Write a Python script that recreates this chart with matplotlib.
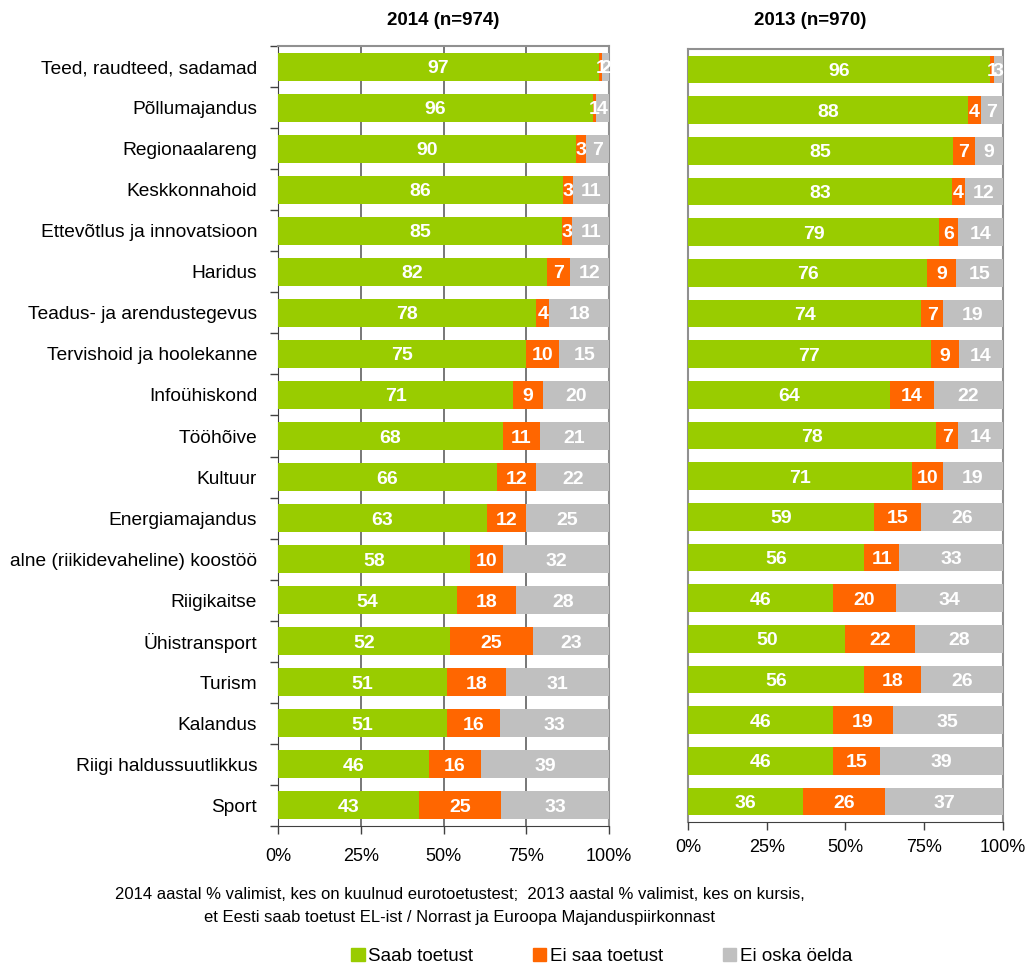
import numpy as np
import matplotlib.pyplot as plt
from matplotlib.patches import Patch

plt.rcParams['font.family'] = ['Liberation Sans', 'DejaVu Sans']

categories = ["Teed, raudteed, sadamad", "Põllumajandus", "Regionaalareng", "Keskkonnahoid",
              "Ettevõtlus ja innovatsioon", "Haridus", "Teadus- ja arendustegevus",
              "Tervishoid ja hoolekanne", "Infoühiskond", "Tööhõive", "Kultuur",
              "Energiamajandus", "alne (riikidevaheline) koostöö", "Riigikaitse",
              "Ühistransport", "Turism", "Kalandus", "Riigi haldussuutlikkus", "Sport"]

yes_2014 = [97, 96, 90, 86, 85, 82, 78, 75, 71, 68, 66, 63, 58, 54, 52, 51, 51, 46, 43]
no_2014 = [1, 1, 3, 3, 3, 7, 4, 10, 9, 11, 12, 12, 10, 18, 25, 18, 16, 16, 25]
dk_2014 = [2, 4, 7, 11, 11, 12, 18, 15, 20, 21, 22, 25, 32, 28, 23, 31, 33, 39, 33]

yes_2013 = [96, 88, 85, 83, 79, 76, 74, 77, 64, 78, 71, 59, 56, 46, 50, 56, 46, 46, 36]
no_2013 = [1, 4, 7, 4, 6, 9, 7, 9, 14, 7, 10, 15, 11, 20, 22, 18, 19, 15, 26]
dk_2013 = [3, 7, 9, 12, 14, 15, 19, 14, 22, 14, 19, 26, 33, 34, 28, 26, 35, 39, 37]

series_names = ["Saab toetust", "Ei saa toetust", "Ei oska öelda"]
colors = ["#99CC00", "#FF6600", "#C0C0C0"]
xticks = [0, 25, 50, 75, 100]
xticklabels = ["0%", "25%", "50%", "75%", "100%"]

fig = plt.figure(figsize=(10.29, 9.69), dpi=100)
ax1 = fig.add_axes([0.2702, 0.1476, 0.3217, 0.8049])
ax2 = fig.add_axes([0.6686, 0.1517, 0.3061, 0.7977])


def draw(ax, data, grid, yticks):
    arr = np.array(data, dtype=float)
    pct = arr / arr.sum(axis=0) * 100
    y = np.arange(len(categories))
    left = np.zeros(len(categories))
    for k in range(3):
        ax.barh(y, pct[k], left=left, height=0.68, color=colors[k], zorder=3)
        for i in range(len(categories)):
            ax.text(left[i] + pct[k][i] / 2, y[i], str(int(arr[k][i])), ha='center',
                    va='center_baseline', color='white', fontweight='bold', fontsize=14, zorder=4)
        left += pct[k]
    ax.set_xlim(0, 100)
    ax.set_ylim(len(categories) - 0.5, -0.5)
    ax.set_xticks(xticks)
    ax.set_xticklabels(xticklabels, fontsize=13)
    ax.tick_params(axis='x', length=6, width=1, color='#404040', pad=10)
    if grid:
        for g in [25, 50, 75]:
            ax.axvline(g, color='#606060', lw=1.2, zorder=1)
    for s in ['top', 'right']:
        ax.spines[s].set_color('#909090')
        ax.spines[s].set_linewidth(1.5)
    if yticks:
        ax.set_yticks(y)
        ax.set_yticklabels(categories, fontsize=13.8)
        ax.set_yticks(np.arange(-0.5, len(categories)), minor=True)
        ax.tick_params(axis='y', which='major', length=0, pad=15)
        ax.tick_params(axis='y', which='minor', length=6, width=1, color='#404040')
        ax.spines['left'].set_color('#404040')
        ax.spines['bottom'].set_color('#404040')
    else:
        ax.set_yticks([])
        ax.spines['left'].set_color('#909090')
        ax.spines['left'].set_linewidth(1.5)
        ax.spines['bottom'].set_color('#404040')


draw(ax1, [yes_2014, no_2014, dk_2014], True, True)
draw(ax2, [yes_2013, no_2013, dk_2013], False, False)
ax2.tick_params(axis='x', pad=6)

fig.text(0.4305, 0.979, "2014 (n=974)", ha='center', va='center', fontsize=13.5, fontweight='bold')
fig.text(0.787, 0.979, "2013 (n=970)", ha='center', va='center', fontsize=13.5, fontweight='bold')

fig.text(0.447, 0.065, "2014 aastal % valimist, kes on kuulnud eurotoetustest;  2013 aastal % valimist, kes on kursis,\n"
         "et Eesti saab toetust EL-ist / Norrast ja Euroopa Majanduspiirkonnast",
         ha='center', va='center', fontsize=12, linespacing=1.6)

handles = [Patch(color=c, label=n) for c, n in zip(colors, series_names)]
fig.legend(handles=handles, loc='center', bbox_to_anchor=(0.585, 0.013), ncol=3, frameon=False,
           fontsize=13.5, handlelength=0.7, handleheight=0.7, handletextpad=0.2, columnspacing=3.2)

fig.savefig("out.png", dpi=100)
